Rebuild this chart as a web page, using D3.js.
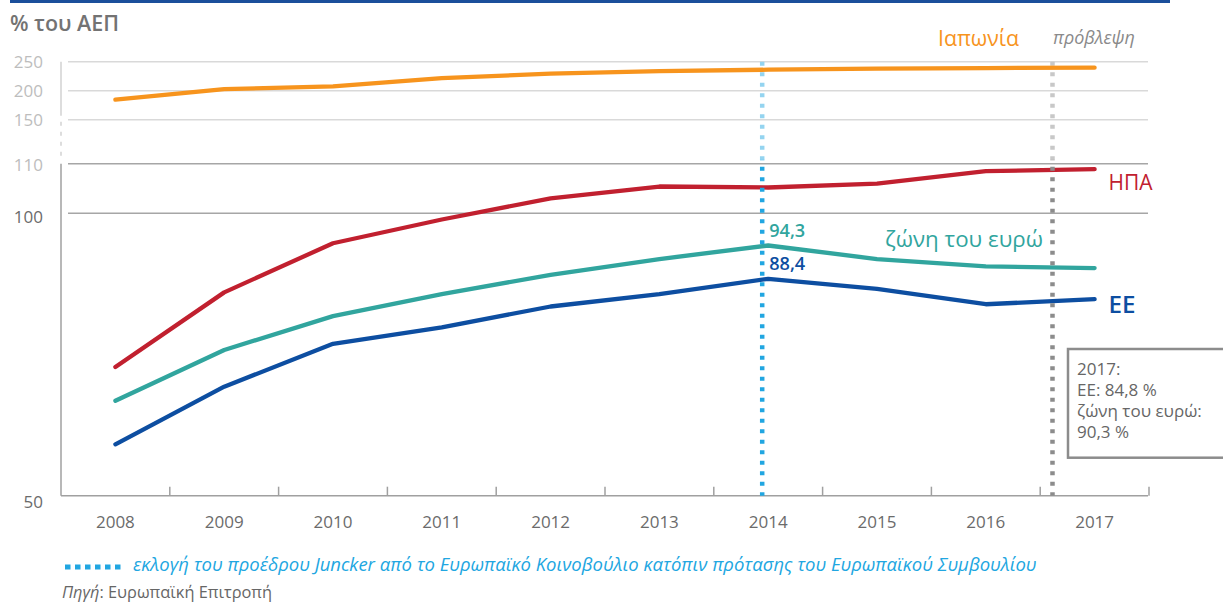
<!DOCTYPE html>
<html>
<head>
<meta charset="utf-8">
<script src="https://cdn.jsdelivr.net/npm/d3@7"></script>
<style>
  html, body { margin: 0; padding: 0; background: #fff; }
  svg { display: block; font-family: "Open Sans", "Noto Sans", sans-serif; }
</style>
</head>
<body>
<svg id="chart" width="1223" height="604"></svg>
<script>
// General government gross debt, % of GDP
const years = ["2008", "2009", "2010", "2011", "2012", "2013", "2014", "2015", "2016", "2017"];
const japan    = [184.5, 202.8, 207.4, 221.7, 229.3, 233.8, 236.2, 237.9, 239.0, 239.7];
const usa      = [72.8, 86.0, 94.7, 98.9, 103.0, 105.4, 105.2, 106.0, 108.5, 108.9];
const euroArea = [66.8, 75.8, 81.8, 85.7, 89.1, 91.9, 94.3, 91.9, 90.6, 90.3];
const eu       = [59.1, 69.3, 76.9, 79.8, 83.5, 85.7, 88.4, 86.6, 83.9, 84.8];

// Axis ticks: compressed upper band and regular lower band
const upperTicks = [150, 200, 250];
const lowerTicks = [50, 100, 110];
const lowerGrid = [100, 110];

const electionYear = "2014";
const forecastYear = "2017";

const svg = d3.select("#chart");

const x = d3.scaleBand().domain(years).range([61, 1149]);
const cx = d => x(d) + x.bandwidth() / 2;
// Broken value axis: 50–110 linear, 150–250 squeezed into the top strip
const y = d3.scaleLinear()
  .domain([50, 100, 110, 150, 250])
  .range([495.7, 213.3, 163.7, 119.7, 61.7]);

function fit(t, w) {
  const fs = parseFloat(t.attr("font-size"));
  const len = t.node().getComputedTextLength();
  if (len > 0) t.attr("font-size", (fs * w / len).toFixed(2));
  return t;
}

// Top rule
svg.append("rect").attr("x", 10).attr("y", 0).attr("width", 1160).attr("height", 3)
  .attr("fill", "#1b4f9b");

// Title
fit(svg.append("text").attr("x", 10).attr("y", 31).attr("font-size", 20)
  .attr("font-weight", 600).attr("fill", "#737373").text("% του ΑΕΠ"), 109);

// Gridlines
const grid = svg.append("g");
grid.selectAll("line.upper").data(upperTicks).join("line").attr("class", "upper")
  .attr("x1", 68).attr("x2", 1148)
  .attr("y1", d => y(d)).attr("y2", d => y(d))
  .attr("stroke", "#d9d9d9").attr("stroke-width", 1.5);
grid.selectAll("line.lower").data(lowerGrid).join("line").attr("class", "lower")
  .attr("x1", 68).attr("x2", 1148)
  .attr("y1", d => y(d)).attr("y2", d => y(d))
  .attr("stroke", "#a6a6a6").attr("stroke-width", 1.5);

// Value axis line with a break between the two bands
const axisX = x.range()[0];
svg.append("line").attr("x1", axisX).attr("x2", axisX)
  .attr("y1", y(250)).attr("y2", y(150) - 4)
  .attr("stroke", "#d2d2d2").attr("stroke-width", 1.5);
svg.append("line").attr("x1", axisX).attr("x2", axisX)
  .attr("y1", y(150) + 2).attr("y2", y(110) - 2)
  .attr("stroke", "#d2d2d2").attr("stroke-width", 1.5)
  .attr("stroke-dasharray", "4,6");
svg.append("line").attr("x1", axisX).attr("x2", axisX)
  .attr("y1", y(110)).attr("y2", y(50))
  .attr("stroke", "#a0a0a0").attr("stroke-width", 1.5);

// Value axis labels
const labelShift = { 50: 6, 100: 3.4, 110: 1.3 };
const yAxis = svg.append("g").attr("transform", `translate(${axisX},0)`)
  .call(d3.axisLeft(y).tickValues(upperTicks.concat(lowerTicks)).tickSize(0).tickPadding(18));
yAxis.select(".domain").remove();
yAxis.selectAll(".tick text")
  .attr("font-family", "Open Sans, sans-serif")
  .attr("font-size", 17)
  .attr("fill", d => (d === 50 || d === 100) ? "#6b6b6b" : "#bdbdbd")
  .attr("transform", d => `translate(0,${labelShift[d] || 0})`);

// Category axis
const baseY = y(50);
svg.append("line").attr("x1", axisX).attr("x2", x.range()[1] - 1)
  .attr("y1", baseY).attr("y2", baseY)
  .attr("stroke", "#a0a0a0").attr("stroke-width", 1.5);
svg.append("g").selectAll("line").data(years).join("line")
  .attr("x1", d => x(d) + x.bandwidth()).attr("x2", d => x(d) + x.bandwidth())
  .attr("y1", baseY).attr("y2", baseY - 9)
  .attr("stroke", "#a0a0a0").attr("stroke-width", 1.5);
const xAxis = svg.append("g").attr("transform", `translate(0,${baseY})`)
  .call(d3.axisBottom(x).tickSize(0).tickPadding(20));
xAxis.select(".domain").remove();
xAxis.selectAll(".tick text")
  .attr("font-family", "Open Sans, sans-serif")
  .attr("font-size", 17).attr("fill", "#6b6b6b");

// Series lines
const series = [
  { name: "Ιαπωνία", values: japan, color: "#f7941d" },
  { name: "ΗΠΑ", values: usa, color: "#c1202f" },
  { name: "ζώνη του ευρώ", values: euroArea, color: "#31a59e" },
  { name: "ΕΕ", values: eu, color: "#0d4ea1" }
];
const line = d3.line().x((d, i) => cx(years[i])).y(d => y(d));

// Dotted markers (election and forecast), lighter across the upper band
const clipTop = y(110) - 4;
const defs = svg.append("defs");
defs.append("clipPath").attr("id", "clipUpper").append("rect")
  .attr("x", 0).attr("y", 0).attr("width", 1223).attr("height", clipTop);
defs.append("clipPath").attr("id", "clipLower").append("rect")
  .attr("x", 0).attr("y", clipTop).attr("width", 1223).attr("height", 604 - clipTop);

const electionX = cx(electionYear) - 6;
const forecastX = x(forecastYear) + x.bandwidth() * 0.113;
const markers = [
  { x: electionX, light: "#94d4f0", dark: "#21a6e1" },
  { x: forecastX, light: "#c8c8c8", dark: "#8c8c8c" }
];

function drawMarkers(clip, key) {
  svg.append("g").attr("clip-path", `url(#${clip})`)
    .selectAll("line").data(markers).join("line")
    .attr("x1", d => d.x).attr("x2", d => d.x)
    .attr("y1", y(250)).attr("y2", baseY)
    .attr("stroke", d => d[key]).attr("stroke-width", 4.5)
    .attr("stroke-dasharray", "4,6.5");
}
drawMarkers("clipUpper", "light");

svg.append("g").selectAll("path").data(series).join("path")
  .attr("d", d => line(d.values))
  .attr("fill", "none")
  .attr("stroke", d => d.color)
  .attr("stroke-width", 4.3)
  .attr("stroke-linecap", "round")
  .attr("stroke-linejoin", "round");

drawMarkers("clipLower", "dark");

// Series names
const last = years[years.length - 1];
fit(svg.append("text").attr("x", 1019).attr("y", 46).attr("text-anchor", "end")
  .attr("font-size", 22).attr("fill", "#f7941d").text("Ιαπωνία"), 81);
fit(svg.append("text").attr("x", cx(last) + 14).attr("y", 190)
  .attr("font-size", 22).attr("fill", "#c1202f").text("ΗΠΑ"), 44);
fit(svg.append("text").attr("x", 1043).attr("y", 246.7).attr("text-anchor", "end")
  .attr("font-size", 22).attr("fill", "#31a59e").text("ζώνη του ευρώ"), 158);
fit(svg.append("text").attr("x", cx(last) + 14).attr("y", 313)
  .attr("font-size", 22).attr("font-weight", 600).attr("fill", "#0d4ea1").text("ΕΕ"), 27);

// Forecast label
fit(svg.append("text").attr("x", 1053).attr("y", 44)
  .attr("font-size", 18).attr("font-style", "italic").attr("fill", "#8a8a8a")
  .text("πρόβλεψη"), 82);

// Value labels at the election year
const ei = years.indexOf(electionYear);
const fmt = v => d3.format(".1f")(v).replace(".", ",");
fit(svg.append("text").attr("x", cx(electionYear) + 1).attr("y", y(euroArea[ei]) - 8.6)
  .attr("font-size", 17).attr("font-weight", 600).attr("fill", "#31a59e")
  .text(fmt(euroArea[ei])), 36);
fit(svg.append("text").attr("x", cx(electionYear) + 1).attr("y", y(eu[ei]) - 8.4)
  .attr("font-size", 17).attr("font-weight", 600).attr("fill", "#0d4ea1")
  .text(fmt(eu[ei])), 36);

// 2017 note box
const li = years.length - 1;
const note = svg.append("g");
note.append("rect").attr("x", 1068).attr("y", 349).attr("width", 200).attr("height", 108.7)
  .attr("fill", "#fff").attr("stroke", "#8c8c8c").attr("stroke-width", 2.5);
const noteLines = [
  `${last}:`,
  `ΕΕ: ${fmt(eu[li])} %`,
  "ζώνη του ευρώ:",
  `${fmt(euroArea[li])} %`
];
note.selectAll("text").data(noteLines).join("text")
  .attr("x", 1077).attr("y", (d, i) => 375 + i * 21)
  .attr("font-size", 17).attr("fill", "#666").text(d => d);

// Legend for the election marker
svg.append("line").attr("x1", 65).attr("x2", 121).attr("y1", 567).attr("y2", 567)
  .attr("stroke", "#21a6e1").attr("stroke-width", 5).attr("stroke-dasharray", "5.5,4.5");
fit(svg.append("text").attr("x", 133).attr("y", 571)
  .attr("font-size", 18).attr("font-style", "italic").attr("fill", "#21a6e1")
  .text("εκλογή του προέδρου Juncker από το Ευρωπαϊκό Κοινοβούλιο κατόπιν πρότασης του Ευρωπαϊκού Συμβουλίου"), 904);

// Source
const src = svg.append("text").attr("x", 62).attr("y", 598)
  .attr("font-size", 17).attr("fill", "#666");
src.append("tspan").attr("font-style", "italic").text("Πηγή");
src.append("tspan").text(": Ευρωπαϊκή Επιτροπή");
fit(src, 210);
</script>
</body>
</html>
